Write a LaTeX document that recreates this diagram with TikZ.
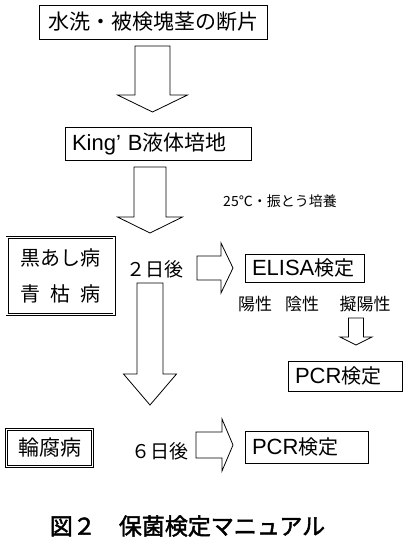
\documentclass[tikz,border=0pt]{standalone}
\usepackage{fontspec}
\setmainfont{Noto Sans CJK JP}[AutoFakeBold=2]
\newfontfamily\latin{Liberation Sans}
\usetikzlibrary{positioning}

% fonts used in the chart
\newcommand{\fs}[1]{\fontsize{#1pt}{#1pt}\selectfont}
\newcommand{\lat}[1]{{\latin\fs{22}#1}}

\tikzset{
  box/.style={draw, line width=0.8pt, inner ysep=0pt, inner xsep=7pt, align=left},
  dblbox/.style={draw, double, line width=0.7pt, double distance=1.6pt,
                 inner sep=0pt, align=center},
  blockarrow/.style={draw, line width=0.8pt, fill=white, line join=miter},
  lbl/.style={inner sep=0pt}
}

% block arrow pointing down: cx, top, base of head, tip, shaft half, head half
\newcommand{\downblock}[6]{%
  \draw[blockarrow] (#1-#5,#2) -- (#1+#5,#2) -- (#1+#5,#3) -- (#1+#6,#3)
    -- (#1,#4) -- (#1-#6,#3) -- (#1-#5,#3) -- cycle;}
% block arrow pointing right: cy, left, base of head, tip, shaft half, head half
\newcommand{\rightblock}[6]{%
  \draw[blockarrow] (#2,#1-#5) -- (#3,#1-#5) -- (#3,#1-#6) -- (#4,#1)
    -- (#3,#1+#6) -- (#3,#1+#5) -- (#2,#1+#5) -- cycle;}

\begin{document}
\begin{tikzpicture}[x=1pt, y=-1pt]
  \useasboundingbox (0,0) rectangle (416,545);

  % main flow
  \node[box, minimum width=228pt, minimum height=34pt, text width=214pt,
        align=center, font=\fs{21}] (sample) at (153,22) {水洗・被検塊茎の断片};
  \downblock{152.5}{46}{95}{112}{17.5}{35}
  \node[box, minimum width=186pt, minimum height=33pt, text width=172pt,
        font=\fs{21}] (kingb) at (158,143.5) {\lat{King’ B}液体培地};
  \downblock{150}{167}{217}{233}{16}{32.5}
  \node[lbl, font=\fs{14}] (culture) at (280,201) {25℃・振とう培養};

  % after 2 days
  \node[dblbox, minimum width=107pt, minimum height=77pt, font=\fs{20}]
    (disease1) at (60.5,276) {黒あし病\\[16pt]\makebox[4em][s]{青\hfil 枯\hfil 病}};
  \node[lbl, font=\fs{19}] (day2) at (155,269) {２日後};
  \rightblock{268}{197}{221}{233}{12}{25}
  \node[box, minimum width=119pt, minimum height=28pt, text width=105pt,
        font=\fs{20}] (elisa) at (304.5,268) {\lat{ELISA}検定};
  \node[lbl, font=\fs{17}] (pos) at (255,304) {陽性};
  \node[lbl, font=\fs{17}] (neg) at (302,304) {陰性};
  \node[lbl, font=\fs{17}] (pseudo) at (365,304) {擬陽性};
  \downblock{356}{318}{337}{345}{7.5}{16}
  \node[box, minimum width=114pt, minimum height=30pt, text width=100pt,
        font=\fs{20}] (pcr1) at (345,376) {\lat{PCR}検定};

  % after 6 days
  \downblock{150}{283}{374}{405}{13}{26.5}
  \node[dblbox, minimum width=86pt, minimum height=37pt, font=\fs{21}]
    (disease2) at (49.5,448) {輪腐病};
  \node[lbl, font=\fs{19}] (day6) at (160,451) {６日後};
  \rightblock{445}{196}{222}{233}{13}{26}
  \node[box, minimum width=123pt, minimum height=32pt, text width=109pt,
        font=\fs{20}] (pcr2) at (306.5,447) {\lat{PCR}検定};

  \node[lbl, font=\fs{23}\bfseries] (caption) at (187.5,526) {図２　保菌検定マニュアル};
\end{tikzpicture}
\end{document}
